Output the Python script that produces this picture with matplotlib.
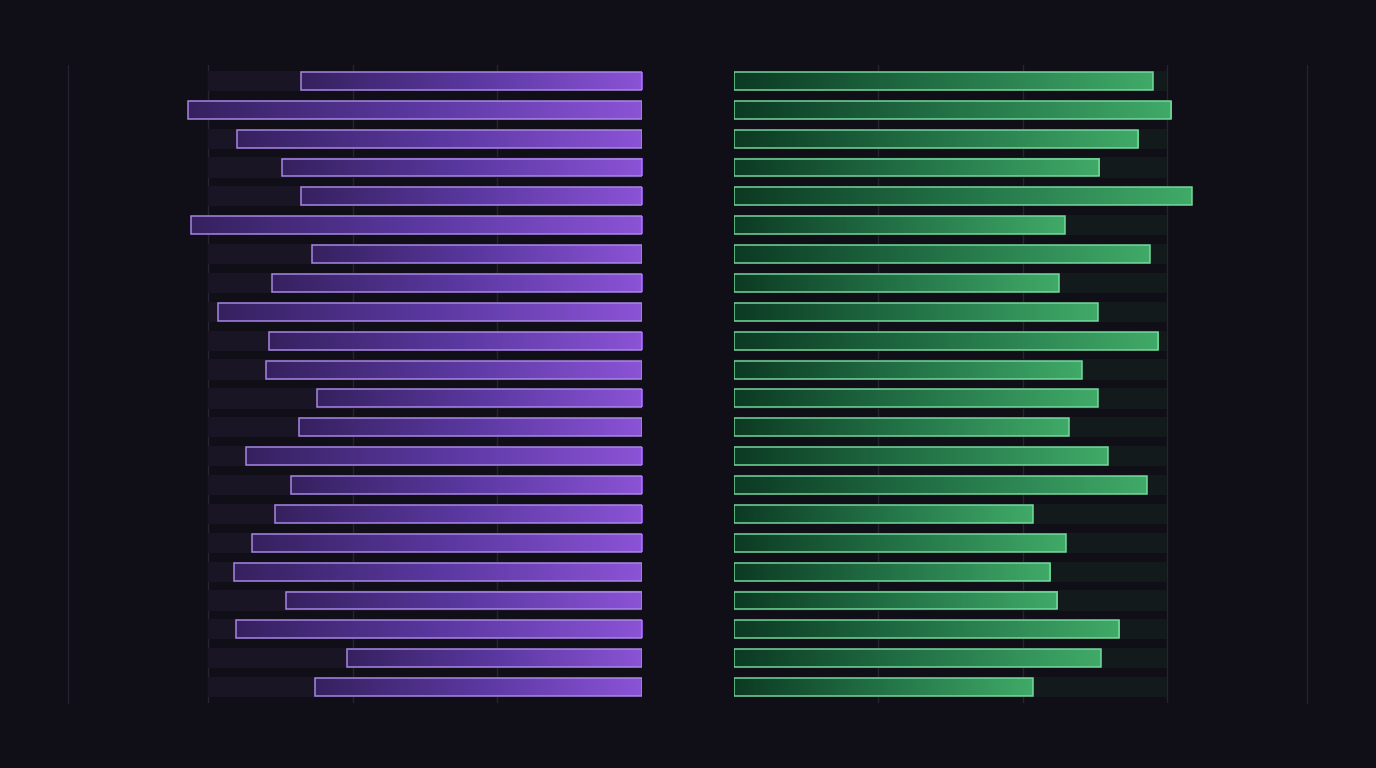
import numpy as np
import matplotlib
matplotlib.use("Agg")
import matplotlib.pyplot as plt
from matplotlib.colors import LinearSegmentedColormap
from matplotlib.patches import Rectangle

# ---- data (units: one gridline step = 10) ----
left_values = [23.6, 31.4, 28.0, 24.9, 23.6, 31.2, 22.8, 25.6, 29.3, 25.8, 26.0,
               22.5, 23.7, 27.4, 24.3, 25.4, 27.0, 28.2, 24.6, 28.1, 20.4, 22.6]
right_values = [29.0, 30.3, 28.0, 25.3, 31.7, 22.9, 28.8, 22.5, 25.2, 29.4, 24.1,
                25.2, 23.2, 25.9, 28.6, 20.7, 23.0, 21.9, 22.4, 26.7, 25.4, 20.7]
track_max = 30.0
grid_ticks = [10, 20, 30]

BG = "#100f17"
GRID = "#262433"

purple_cmap = LinearSegmentedColormap.from_list("p", ["#36215f", "#5a38a0", "#8b53d6"])
green_cmap = LinearSegmentedColormap.from_list("g", ["#0c3a23", "#237347", "#40aa68"])

fig = plt.figure(figsize=(13.76, 7.68), dpi=100, facecolor=BG)
axL = fig.add_axes([68/1376, 65/768, (642-68)/1376, (703-65)/768])
axR = fig.add_axes([734/1376, 65/768, (1307-734)/1376, (703-65)/768])

n = len(left_values)
rows = np.arange(n)
bar_h = 0.62
track_h = 0.70
xmax = 39.7

grad = np.linspace(0, 1, 256).reshape(1, -1)

for ax, vals, cmap, edge, track_col, side in [
        (axL, left_values, purple_cmap, "#ad8aea", "#1a1525", "left"),
        (axR, right_values, green_cmap, "#78dca0", "#131a1c", "right")]:
    ax.set_facecolor(BG)
    for t in grid_ticks:
        ax.axvline(t, color=GRID, lw=1.0, zorder=0)
    # tracks
    ax.barh(rows, [track_max]*n, height=track_h, color=track_col, zorder=1, linewidth=0)
    for y, v in zip(rows, vals):
        if side == "left":
            ext = [v, 0, y + bar_h/2, y - bar_h/2]
        else:
            ext = [0, v, y + bar_h/2, y - bar_h/2]
        ax.imshow(grad, cmap=cmap, aspect="auto", extent=ext, zorder=2, interpolation="bicubic")
        ax.add_patch(Rectangle((0, y - bar_h/2), v, bar_h, fill=False,
                               edgecolor=edge, lw=1.1, alpha=0.95, zorder=3))
    ax.set_ylim(n - 1 + 0.55, -0.55)
    if side == "left":
        ax.set_xlim(xmax, 0)
    else:
        ax.set_xlim(0, xmax)
    ax.set_xticks([])
    ax.set_yticks([])
    for s in ax.spines.values():
        s.set_visible(False)

axL.spines["left"].set_visible(True)
axL.spines["left"].set_color(GRID)
axR.spines["right"].set_visible(True)
axR.spines["right"].set_color(GRID)

fig.savefig("out.png", dpi=100, facecolor=BG)
